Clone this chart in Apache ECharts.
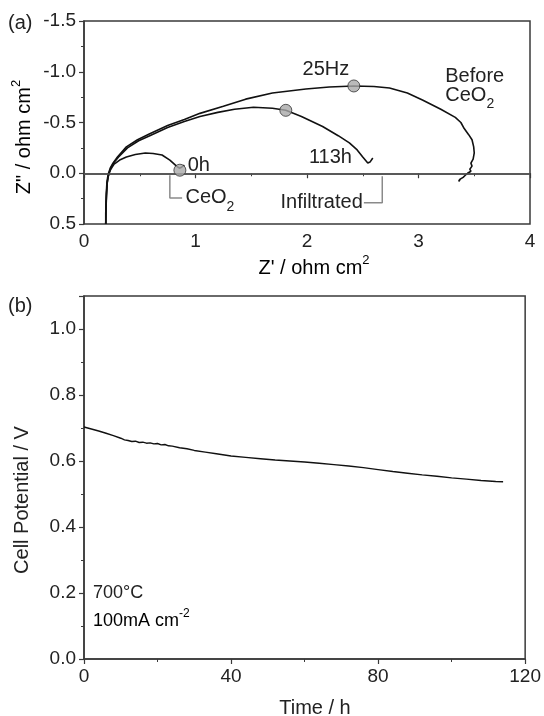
<!DOCTYPE html>
<html>
<head>
<meta charset="utf-8">
<script src="https://cdn.jsdelivr.net/npm/echarts@6/dist/echarts.min.js"></script>
<style>
  html, body { margin: 0; padding: 0; background: #fff; }
  #chart { width: 544px; height: 716px; }
</style>
</head>
<body>
<div id="chart"></div>
<script>
// (a) impedance spectra, Z' vs Z'' (ohm cm2)
const beforeCeO2 = [
  [0.195, 0.50], [0.195, 0.40], [0.197, 0.30], [0.200, 0.20], [0.205, 0.10], [0.212, 0.04],
  [0.220, 0.00], [0.235, -0.05], [0.26, -0.10], [0.30, -0.16], [0.38, -0.26], [0.48, -0.33],
  [0.59, -0.39], [0.75, -0.47], [0.90, -0.53], [1.04, -0.59], [1.25, -0.66], [1.45, -0.73],
  [1.69, -0.79], [1.99, -0.83], [2.20, -0.85], [2.42, -0.86], [2.60, -0.855], [2.74, -0.84],
  [2.90, -0.79], [3.04, -0.72], [3.20, -0.63], [3.33, -0.55], [3.38, -0.50], [3.41, -0.44],
  [3.45, -0.38], [3.48, -0.33], [3.495, -0.26], [3.50, -0.20], [3.49, -0.14], [3.47, -0.10],
  [3.48, -0.07], [3.46, -0.04], [3.47, -0.02], [3.44, 0.00], [3.42, 0.02], [3.40, 0.04],
  [3.37, 0.06], [3.36, 0.08], [3.375, 0.06]
]
const infiltrated113h = [
  [0.195, 0.50], [0.196, 0.40], [0.198, 0.30], [0.202, 0.20], [0.207, 0.10], [0.215, 0.04],
  [0.225, 0.00], [0.24, -0.05], [0.265, -0.10], [0.31, -0.16], [0.39, -0.25], [0.49, -0.32],
  [0.59, -0.37], [0.75, -0.45], [0.90, -0.51], [1.04, -0.56], [1.20, -0.60], [1.35, -0.63],
  [1.52, -0.65], [1.69, -0.64], [1.81, -0.62], [1.95, -0.56], [2.14, -0.46], [2.28, -0.37],
  [2.38, -0.30], [2.45, -0.23], [2.50, -0.16], [2.53, -0.12], [2.545, -0.10], [2.565, -0.11],
  [2.59, -0.15]
]
const infiltrated0h = [
  [0.195, 0.50], [0.197, 0.40], [0.199, 0.30], [0.203, 0.20], [0.208, 0.10], [0.216, 0.04],
  [0.225, 0.00], [0.24, -0.04], [0.27, -0.09], [0.32, -0.13], [0.38, -0.16], [0.46, -0.185],
  [0.55, -0.20], [0.62, -0.195], [0.70, -0.18], [0.77, -0.13], [0.83, -0.07], [0.855, -0.05],
  [0.875, -0.06], [0.90, -0.08]
]
// 25 Hz points
const freqMarkers = [[0.86, -0.03], [1.81, -0.62], [2.42, -0.86]]
// annotation text anchored in data space: [x, y, text, align]
const annotations = [
  [1.03, -0.08, '0h', 'center'],
  [2.17, -1.02, '25Hz', 'center'],
  [3.24, -0.95, 'Before', 'left'],
  [3.24, -0.74, 'CeO_2', 'left'],
  [2.21, -0.16, '113h', 'center'],
  [0.91, 0.27, 'CeO_2', 'left'],
  [2.50, 0.285, 'Infiltrated', 'right']
]
const bracketCeO2 = [[0.77, 0.02], [0.77, 0.245], [0.88, 0.245]]
const bracketInfil = [[2.51, 0.29], [2.675, 0.29], [2.675, 0.03]]
const zTicksX = [0, 4, 1]
const zTicksY = [-1.5, 0.5, 0.5]

// (b) cell potential at 700°C, 100 mA cm-2
const timeH = [0, 2, 4, 6, 8, 10, 11, 12, 13, 14, 15, 16, 17, 18, 19, 20, 21, 22, 23, 24, 26,
  28, 30, 33, 36, 40, 44, 48, 52, 56, 60, 64, 68, 72, 76, 80, 84, 88, 92, 96, 100, 104, 108,
  112, 114]
const potentialV = [0.703, 0.697, 0.691, 0.684, 0.677, 0.669, 0.664, 0.662, 0.659, 0.660, 0.656,
  0.657, 0.654, 0.655, 0.652, 0.653, 0.649, 0.650, 0.646, 0.645, 0.640, 0.637, 0.632, 0.627,
  0.622, 0.615, 0.611, 0.607, 0.603, 0.600, 0.597, 0.593, 0.589, 0.585, 0.580, 0.574, 0.568,
  0.563, 0.558, 0.554, 0.549, 0.545, 0.541, 0.538, 0.537]
const tTicks = [0, 120, 40]
const vTicks = [0, 1.1, 0.2]

const FONT = "'Liberation Sans', Arial, Helvetica, sans-serif"
const INK = '#222'
const AXIS = '#3a3a3a'

const chart = echarts.init(document.getElementById('chart'), null, { renderer: 'canvas' })

const axisBase = (ticks, fmt) => ({
  type: 'value',
  min: ticks[0],
  max: ticks[1],
  interval: ticks[2],
  axisLine: { show: true, lineStyle: { color: AXIS, width: 1.5 } },
  axisTick: { show: true, inside: false, length: 5, lineStyle: { color: AXIS, width: 1.2 } },
  minorTick: { show: true, splitNumber: 2, length: 3, lineStyle: { color: AXIS, width: 1 } },
  splitLine: { show: false },
  axisLabel: { color: INK, fontSize: 19, fontFamily: FONT, margin: 8, formatter: fmt }
})

const richText = {
  sub: { fontSize: 14, fontFamily: FONT, color: INK, lineHeight: 26, verticalAlign: 'bottom' },
  sup: { fontSize: 13, fontFamily: FONT, color: INK, lineHeight: 16, verticalAlign: 'top' },
  n: { fontSize: 20, fontFamily: FONT, color: INK, lineHeight: 20, verticalAlign: 'top' },
  b: { fontSize: 20, fontFamily: FONT, color: INK, lineHeight: 24, verticalAlign: 'bottom' }
}

const toRich = (s) => {
  const m = s.match(/^(.*)_(\S+)$/)
  return m ? `{n|${m[1]}}{sub|${m[2]}}` : `{n|${s}}`
}

const bracketLine = (data) => ({
  type: 'line', xAxisIndex: 0, yAxisIndex: 0, data, symbol: 'none', silent: true,
  lineStyle: { color: '#8a8a8a', width: 1.5 }, z: 3
})

const impedanceLine = (name, data) => ({
  type: 'line', name, xAxisIndex: 0, yAxisIndex: 0, data, symbol: 'none',
  lineStyle: { color: '#111', width: 1.6 }, z: 4
})

const option = {
  animation: false,
  backgroundColor: '#fff',
  grid: [
    { left: 84, top: 21, width: 446, height: 203, show: true, borderColor: AXIS, borderWidth: 1.5 },
    { left: 84, top: 296, width: 448, height: 363, show: true, borderColor: AXIS, borderWidth: 1.5 }
  ],
  xAxis: [
    Object.assign(axisBase(zTicksX, (v) => String(v)), { gridIndex: 0 }),
    Object.assign(axisBase(tTicks, (v) => String(v)), { gridIndex: 1 })
  ],
  yAxis: [
    Object.assign(axisBase(zTicksY, (v) => v.toFixed(1)), { gridIndex: 0, inverse: true }),
    Object.assign(axisBase(vTicks, (v) => (v > 1.05 ? '' : v.toFixed(1))), { gridIndex: 1 })
  ],
  series: [
    Object.assign(impedanceLine('Before CeO2', beforeCeO2), {
      markLine: {
        silent: true, symbol: 'none', label: { show: false },
        lineStyle: { color: '#555', width: 1.5, type: 'solid' },
        data: [{ yAxis: 0 }]
      }
    }),
    impedanceLine('113h', infiltrated113h),
    impedanceLine('0h', infiltrated0h),
    bracketLine(bracketCeO2),
    bracketLine(bracketInfil),
    {
      type: 'scatter', xAxisIndex: 0, yAxisIndex: 0, data: freqMarkers,
      symbol: 'circle', symbolSize: 12, z: 6,
      itemStyle: { color: '#a9a9a9', borderColor: '#333', borderWidth: 1 }
    },
    {
      type: 'scatter', xAxisIndex: 0, yAxisIndex: 0, symbolSize: 0, silent: true, z: 7,
      data: annotations.map((a) => ({
        value: [a[0], a[1]],
        label: {
          show: true, position: 'inside', align: a[3], verticalAlign: 'middle',
          color: INK, textBorderWidth: 0, opacity: 1,
          formatter: toRich(a[2]), rich: richText
        }
      }))
    },
    {
      type: 'line', xAxisIndex: 1, yAxisIndex: 1, symbol: 'none',
      data: timeH.map((t, i) => [t, potentialV[i]]),
      lineStyle: { color: '#111', width: 1.4 }
    }
  ],
  graphic: [
    { type: 'text', x: 8, y: 23, style: { text: '(a)', fill: INK, font: `20px ${FONT}`, verticalAlign: 'middle' } },
    { type: 'text', x: 8, y: 306, style: { text: '(b)', fill: INK, font: `20px ${FONT}`, verticalAlign: 'middle' } },
    {
      type: 'text', x: 314, y: 266, style: {
        text: "{b|Z' / ohm cm}{sup|2}", rich: richText, align: 'center', verticalAlign: 'middle'
      }
    },
    {
      type: 'text', x: 22, y: 137, rotation: Math.PI / 2, style: {
        text: '{b|Z" / ohm cm}{sup|2}', rich: richText, align: 'center', verticalAlign: 'middle'
      }
    },
    {
      type: 'text', x: 22, y: 500, rotation: Math.PI / 2, style: {
        text: 'Cell Potential / V', fill: INK, font: `20px ${FONT}`, align: 'center', verticalAlign: 'middle'
      }
    },
    {
      type: 'text', x: 315, y: 708, style: {
        text: 'Time / h', fill: INK, font: `20px ${FONT}`, align: 'center', verticalAlign: 'middle'
      }
    },
    {
      type: 'text', x: 93, y: 593, style: {
        text: '700°C', fill: INK, font: `18px ${FONT}`, verticalAlign: 'middle'
      }
    },
    {
      type: 'text', x: 93, y: 619, style: {
        text: '{b|100mA cm}{sup|-2}', align: 'left', verticalAlign: 'middle',
        rich: {
          b: { fontSize: 18, fontFamily: FONT, color: INK, lineHeight: 22, verticalAlign: 'bottom' },
          sup: { fontSize: 12, fontFamily: FONT, color: INK, lineHeight: 14, verticalAlign: 'top' }
        }
      }
    }
  ]
}

chart.setOption(option)
</script>
</body>
</html>
